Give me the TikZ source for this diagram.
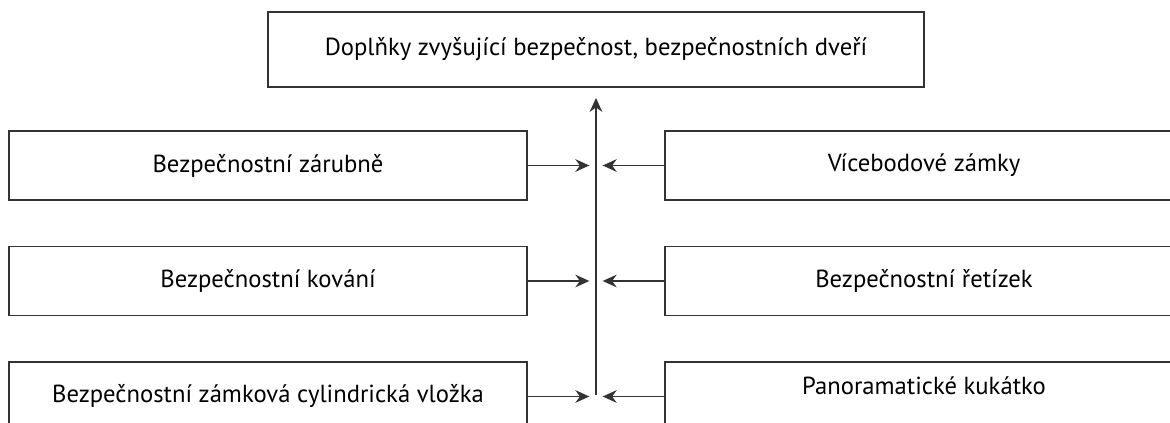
\documentclass[tikz,border=0pt]{standalone}
\usepackage{fontspec}
\setmainfont{PT Sans}
\usetikzlibrary{arrows.meta}
\definecolor{linegray}{HTML}{333333}
\tikzset{
  item/.style={draw=linegray, line width=1.4pt, minimum width=388.5pt,
    minimum height=51.75pt, inner sep=0pt, font=\fontsize{18.5}{22}\selectfont},
  goal/.style={item, minimum width=492pt, minimum height=56.25pt},
  link/.style={draw=linegray, line width=1.2pt, -{Stealth[length=10.5pt, width=9.5pt]}}
}
\begin{document}
\begin{tikzpicture}[x=0.75pt, y=-0.75pt]
  \useasboundingbox (0,0) rectangle (1170,423);
  \begin{scope}
    \clip (0,0) rectangle (1170,423);
    \node[goal] (top) at (596,49.5) {Doplňky zvyšující bezpečnost, bezpečnostních dveří};

    \node[item] (L1) at (268,165.5) {Bezpečnostní zárubně};
    \node[item] (L2) at (268,281) {Bezpečnostní kování};
    \node[item] (L3) at (268,396.5) {Bezpečnostní zámková cylindrická vložka};

    \node[item] (R1) at (924,165.5) {Vícebodové zámky};
    \node[item] (R2) at (924,281) {Bezpečnostní řetízek};
    \node[item] (R3) at (924,396.5) {\raisebox{8pt}[\height][\depth]{Panoramatické kukátko}};
  \end{scope}

  \coordinate (base) at (596,395);
  \draw[link, shorten >=7.5pt] (base) -- (top.south);

  \foreach \n in {1,2,3} {
    \draw[link, shorten >=5pt] (L\n.east) -- (L\n.east -| top.south);
    \draw[link, shorten >=5pt] (R\n.west) -- (R\n.west -| top.south);
  }
\end{tikzpicture}
\end{document}
